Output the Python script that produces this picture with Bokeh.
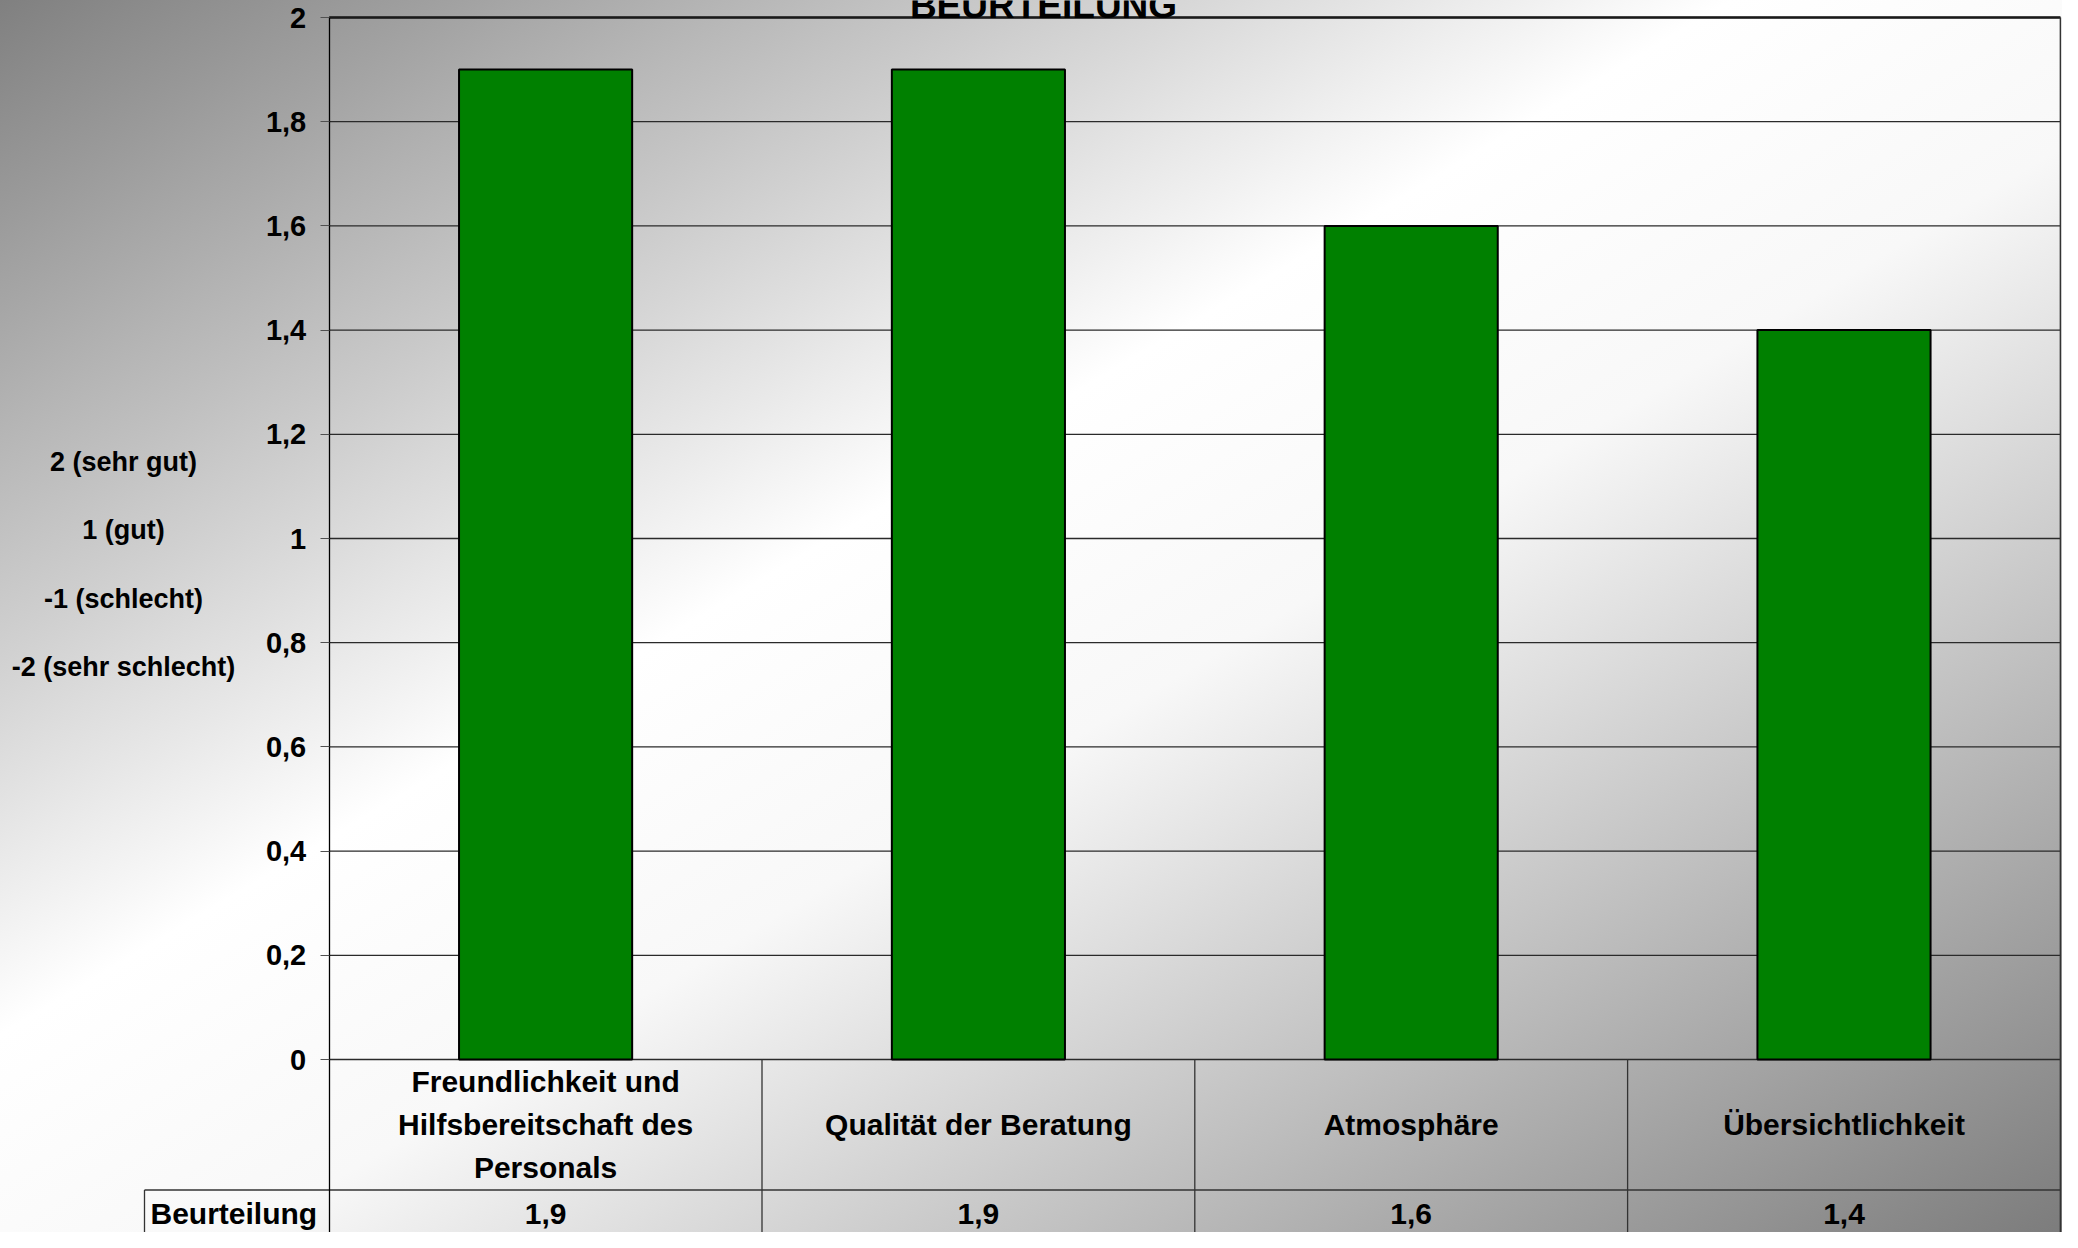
from bokeh.plotting import figure
from bokeh.models import Range1d, LinearAxis, FixedTicker, CustomJSTickFormatter, ColumnDataSource
from bokeh.core.properties import value
from bokeh.embed import file_html
from bokeh.resources import INLINE

# ---- data ----
title_text = "BEURTEILUNG"
categories = ["Freundlichkeit und\nHilfsbereitschaft des\nPersonals",
              "Qualität der Beratung", "Atmosphäre", "Übersichtlichkeit"]
values = [1.9, 1.9, 1.6, 1.4]
series_name = "Beurteilung"
y_ticks = [0, 0.2, 0.4, 0.6, 0.8, 1, 1.2, 1.4, 1.6, 1.8, 2]
scale_labels = ["2 (sehr gut)", "1 (gut)", "-1 (schlecht)", "-2 (sehr schlecht)"]

# ---- layout (figure pixels) ----
W, H = 2062, 1232
X0_PX = 328.7      # left edge of category area
CELL_PX = 432.8    # width of one category cell
Y2_PX = 17.0       # pixel row of value 2
Y0_PX = 1059.0     # pixel row of value 0
PPU_Y = (Y0_PX - Y2_PX) / 2.0

def dx(px):
    return (px - X0_PX) / CELL_PX

def dy(px):
    return (Y0_PX - px) / PPU_Y

n = len(categories)
xr = Range1d(dx(0), dx(W))
yr = Range1d(dy(H), dy(0))
y_bottom = yr.start

FONT = value("Liberation Sans")

p = figure(width=W, height=H, x_range=xr, y_range=yr,
           output_backend="svg", toolbar_location=None,
           x_axis_type=None, y_axis_type=None, min_border=0)
p.min_border_left = p.min_border_right = p.min_border_top = p.min_border_bottom = 0
p.outline_line_color = None
p.background_fill_alpha = 0
p.border_fill_alpha = 0
p.styles = {"background": "linear-gradient(to bottom right, #808080 0%, #ffffff 42%, #f8f8f8 56%, #7c7c7c 100%)"}

# y axis at the left edge of the category area
yaxis = LinearAxis(
    ticker=FixedTicker(ticks=y_ticks, minor_ticks=[]),
    formatter=CustomJSTickFormatter(code="return String(Math.round(tick*10)/10).replace('.', ',')"),
    fixed_location=0, bounds=(y_bottom, max(y_ticks)),
    major_tick_out=9, major_tick_in=0, minor_tick_out=0, minor_tick_in=0,
    major_label_standoff=14,
    axis_line_color="black", axis_line_width=1.3,
    major_tick_line_color="#505050",
    major_label_text_font="Liberation Sans", major_label_text_font_style="bold",
    major_label_text_font_size="29px", major_label_text_color="black",
)
p.add_layout(yaxis, "left")

# gridlines across the plot area
p.segment(x0=[0] * len(y_ticks), x1=[n] * len(y_ticks), y0=y_ticks, y1=y_ticks,
          line_color="#2a2a2a", line_width=1.3)
# top border (thicker) and right border
p.segment(x0=[0], x1=[n], y0=[max(y_ticks)], y1=[max(y_ticks)], line_color="#1a1a1a", line_width=2.4)
p.segment(x0=[n], x1=[n], y0=[y_bottom], y1=[max(y_ticks)], line_color="#333333", line_width=1.5)

# bars
xs = [i + 0.5 for i in range(n)]
src = ColumnDataSource(dict(x=xs, top=values))
p.vbar(x="x", top="top", width=0.4, bottom=0, source=src,
       fill_color="#008000", line_color="black", line_width=2)

# data table below the axis
row_split = dy(1189.5)
table_left = dx(144)
p.segment(x0=list(range(1, n)), x1=list(range(1, n)), y0=[0] * (n - 1), y1=[y_bottom] * (n - 1),
          line_color="#333333", line_width=1.3)
p.segment(x0=[table_left], x1=[n], y0=[row_split], y1=[row_split], line_color="#333333", line_width=1.3)
p.segment(x0=[table_left], x1=[table_left], y0=[row_split], y1=[y_bottom], line_color="#333333", line_width=1.3)

p.text(x=xs, y=[row_split / 2] * n, text=categories,
       text_align="center", text_baseline="middle", text_font=FONT,
       text_font_style="bold", text_font_size="30px", text_line_height=1.3, text_color="black")

val_y = dy(1213)
p.text(x=xs, y=[val_y] * n, text=[str(v).replace(".", ",") for v in values],
       text_align="center", text_baseline="middle", text_font=FONT,
       text_font_style="bold", text_font_size="30px", text_color="black")
p.text(x=[dx(150)], y=[val_y], text=[series_name],
       text_align="left", text_baseline="middle", text_font=FONT,
       text_font_style="bold", text_font_size="30px", text_color="black")

# scale explanation on the left
sy = [dy(461 + 68.5 * k) for k in range(len(scale_labels))]
p.text(x=[dx(123)] * len(scale_labels), y=sy, text=scale_labels,
       text_align="center", text_baseline="middle", text_font=FONT,
       text_font_style="bold", text_font_size="27px", text_color="black")

# title (cut off at the top edge, as in the original)
p.text(x=[dx(1043)], y=[dy(5)], text=[title_text],
       text_align="center", text_baseline="alphabetic", text_font=FONT,
       text_font_style="bold", text_font_size="37px", text_color="black")

open("out.html", "w").write(file_html(p, INLINE))
